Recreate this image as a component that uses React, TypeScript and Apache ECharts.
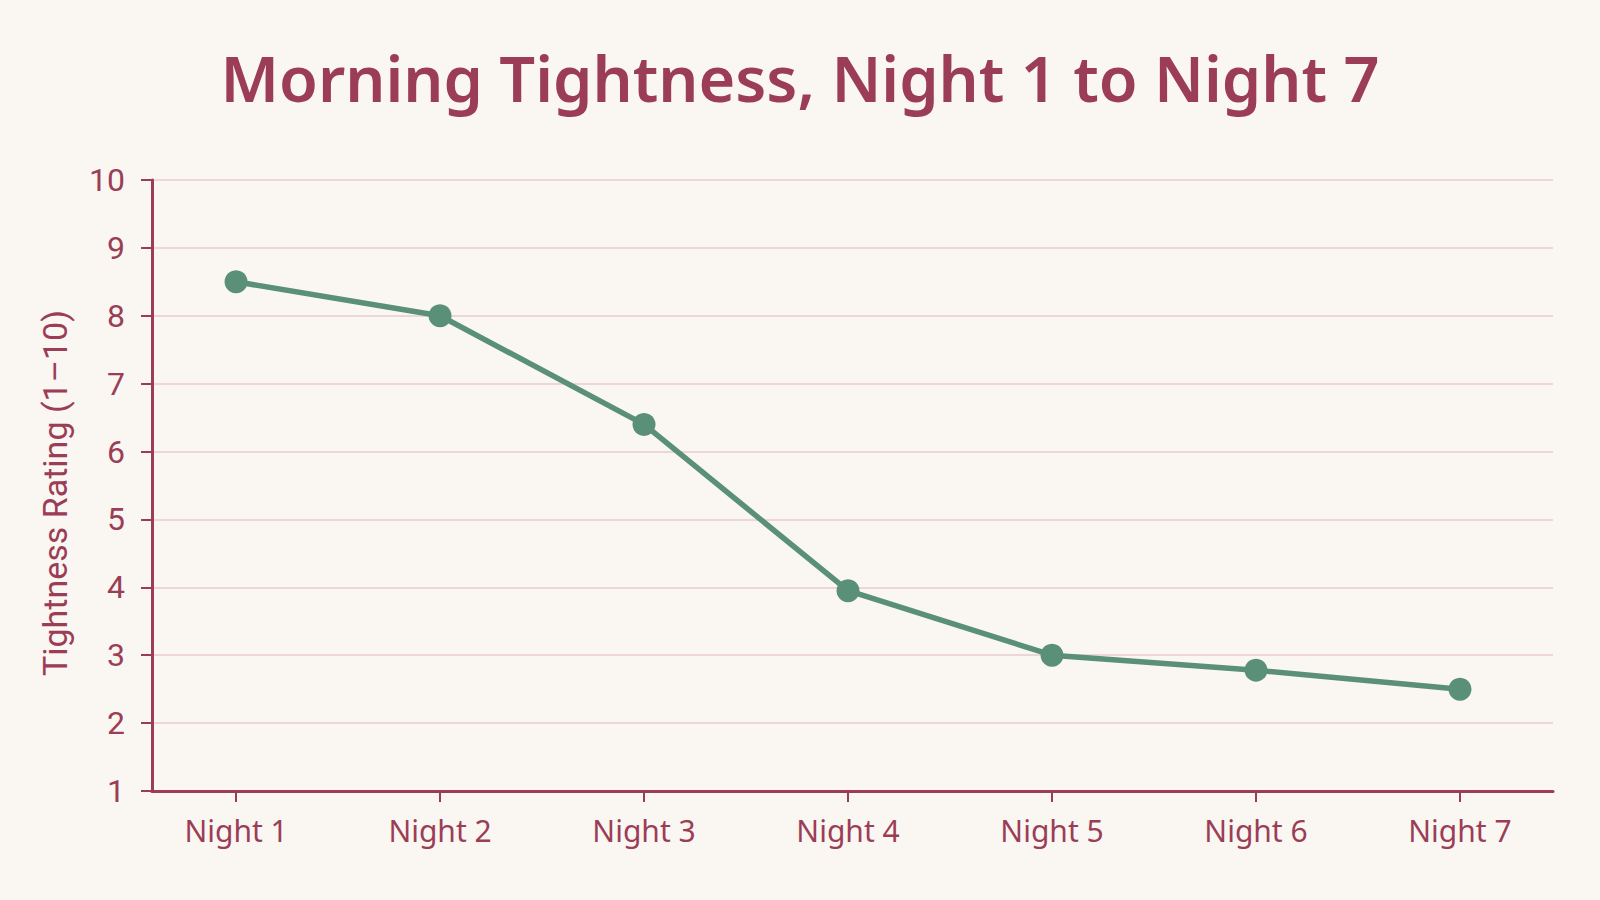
import React, { useEffect, useRef } from "react";
import * as echarts from "echarts";

const nights = ["Night 1", "Night 2", "Night 3", "Night 4", "Night 5", "Night 6", "Night 7"];
const nightIndex = [1, 2, 3, 4, 5, 6, 7];
const tightness = [8.5, 8.0, 6.4, 3.95, 3.0, 2.78, 2.5];

const crimson = "#9c3d57";
const green = "#5a8f78";

const App: React.FC = () => {
    const chartRef = useRef<HTMLDivElement>(null);

    useEffect(() => {
        const chart = echarts.init(chartRef.current, null, { renderer: "svg" });
        chart.setOption({
            animation: false,
            backgroundColor: "#faf7f2",
            title: {
                text: "Morning Tightness, Night 1 to Night 7",
                left: "center",
                top: 41,
                textStyle: {
                    fontFamily: "Noto Sans",
                    fontWeight: 600,
                    fontSize: 63,
                    color: crimson,
                },
            },
            grid: { left: 152, right: 47, top: 180, bottom: 109 },
            xAxis: {
                type: "value",
                min: 0.588,
                max: 7.456,
                axisLine: { show: true, lineStyle: { color: crimson, width: 3 } },
                axisTick: { show: true, customValues: nightIndex, length: 11, lineStyle: { color: crimson, width: 2 } },
                splitLine: { show: false },
                axisLabel: {
                    customValues: nightIndex,
                    formatter: (v: number) => nights[Math.round(v) - 1] ?? "",
                    margin: 24,
                    fontFamily: "Noto Sans",
                    fontSize: 30,
                    color: crimson,
                },
            },
            yAxis: {
                type: "value",
                min: 1,
                max: 10,
                interval: 1,
                name: "Tightness Rating (1–10)",
                nameLocation: "middle",
                nameGap: 80,
                nameTextStyle: { fontFamily: "Roboto", fontSize: 34, color: crimson, padding: [0, 15, 0, 0] },
                axisLine: { show: true, lineStyle: { color: crimson, width: 3 } },
                axisTick: { show: true, length: 11, lineStyle: { color: crimson, width: 2 } },
                splitLine: { show: true, lineStyle: { color: "#ecd6d9", width: 2 } },
                axisLabel: {
                    margin: 27,
                    fontFamily: "Roboto",
                    fontSize: 32,
                    color: crimson,
                },
            },
            series: [
                {
                    type: "line",
                    data: nightIndex.map((n, i) => [n, tightness[i]]),
                    symbol: "circle",
                    symbolSize: 23,
                    lineStyle: { color: green, width: 5.5 },
                    itemStyle: { color: green },
                },
            ],
        });
        return () => {
            chart.dispose();
        };
    }, []);

    return (
        <div
            ref={chartRef}
            style={{ position: "fixed", left: 0, top: 0, width: 1600, height: 900 }}
        ></div>
    );
};

export default App;
